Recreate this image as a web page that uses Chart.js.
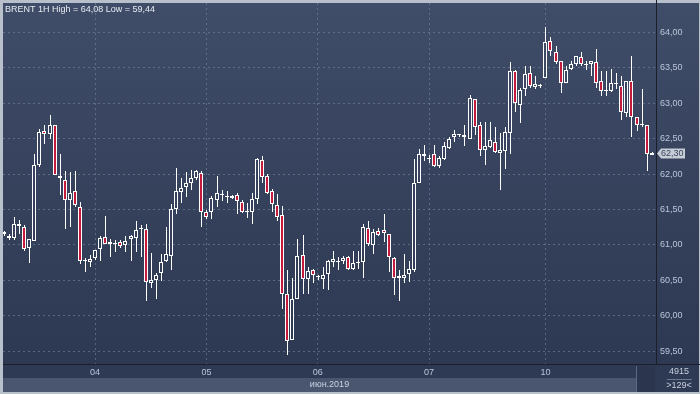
<!DOCTYPE html>
<html lang="ru">
<head>
<meta charset="UTF-8">
<title>BRENT 1H</title>
<script src="https://cdn.jsdelivr.net/npm/chart.js"></script>
<style>
    html, body { margin: 0; padding: 0; background: #b8c0cc; }
    .wrap { width: 700px; height: 394px; }
</style>
</head>
<body>
<div class="wrap"><canvas id="brentChart" width="700" height="394"></canvas></div>
<script>
// hourly candles, 03..10 June 2019
const opens = [
    61.18, 61.13, 61.10, 61.30, 61.26, 60.96, 61.06, 62.13, 62.61, 62.56,
    62.69, 61.98, 61.92, 61.64, 61.76, 61.54, 60.77, 60.76, 60.81, 60.95,
    61.11, 61.01, 61.02, 61.04, 61.00, 61.08, 61.10, 61.22, 61.22, 60.47,
    60.51, 60.60, 60.78, 60.85, 61.51, 61.75, 61.82, 61.87, 61.94, 62.01,
    61.46, 61.46, 61.63, 61.70, 61.67, 61.66, 61.71, 61.61, 61.46, 61.47,
    61.65, 62.20, 61.97, 61.76, 61.56, 61.42, 60.31, 59.66, 60.24, 60.86,
    60.52, 60.64, 60.55, 60.52, 60.59, 60.76, 60.76, 60.78, 60.83, 60.66,
    60.74, 60.76, 61.24, 61.00, 61.20, 61.21, 61.15, 60.82, 60.54, 60.54,
    60.59, 60.65, 61.88, 62.29, 62.23, 62.28, 62.11, 62.21, 62.37, 62.52,
    62.55, 62.55, 62.50, 63.06, 62.69, 62.34, 62.38, 62.46, 62.30, 62.33,
    62.58, 63.45, 62.98, 63.20, 63.42, 63.23, 63.25, 63.35, 63.88, 63.72,
    63.59, 63.29, 63.48, 63.56, 63.65, 63.54, 63.55, 63.58, 63.31, 63.17,
    63.18, 63.27, 63.25, 62.86, 63.32, 62.80, 62.69, 62.69, 62.27
];
const highs = [
    61.20, 61.16, 61.39, 61.35, 61.28, 61.08, 62.29, 62.63, 62.69, 62.83,
    62.70, 62.28, 62.04, 62.03, 62.05, 61.61, 60.81, 60.86, 60.93, 61.12,
    61.41, 61.09, 61.07, 61.07, 61.13, 61.14, 61.34, 61.28, 61.30, 60.88,
    60.60, 60.87, 61.25, 61.58, 62.09, 61.94, 62.03, 62.06, 62.06, 62.05,
    61.50, 61.69, 61.97, 61.77, 61.76, 61.71, 61.73, 61.63, 61.59, 61.73,
    62.23, 62.26, 62.00, 61.79, 61.72, 61.55, 60.64, 60.54, 61.08, 61.14,
    60.69, 60.66, 60.58, 60.69, 60.79, 60.92, 60.83, 60.84, 60.84, 60.92,
    60.92, 61.30, 61.34, 61.23, 61.24, 61.43, 61.15, 60.83, 60.64, 60.87,
    60.78, 62.21, 62.35, 62.41, 62.27, 62.41, 62.26, 62.45, 62.52, 62.62,
    62.57, 62.69, 63.12, 63.06, 62.74, 62.73, 62.73, 62.67, 62.58, 62.67,
    63.58, 63.47, 63.22, 63.53, 63.53, 63.39, 63.27, 64.08, 63.93, 63.81,
    63.59, 63.52, 63.59, 63.67, 63.72, 63.59, 63.60, 63.77, 63.45, 63.46,
    63.48, 63.42, 63.38, 63.32, 63.67, 62.81, 63.20, 62.69, 62.31
];
const lows = [
    61.13, 61.07, 61.07, 61.15, 60.92, 60.75, 61.06, 62.10, 62.43, 62.50,
    61.99, 61.70, 61.22, 61.25, 61.54, 60.73, 60.62, 60.69, 60.79, 60.78,
    61.02, 60.83, 60.90, 60.96, 60.90, 60.78, 60.90, 60.83, 60.21, 60.39,
    60.24, 60.49, 60.76, 60.64, 61.44, 61.59, 61.67, 61.78, 61.91, 61.26,
    61.37, 61.36, 61.53, 61.62, 61.59, 61.65, 61.44, 61.45, 61.38, 61.30,
    61.58, 61.88, 61.72, 61.47, 61.34, 60.10, 59.44, 59.66, 60.24, 60.31,
    60.31, 60.47, 60.51, 60.38, 60.36, 60.69, 60.65, 60.73, 60.64, 60.65,
    60.66, 60.54, 60.98, 60.87, 61.12, 61.04, 60.62, 60.30, 60.21, 60.46,
    60.48, 60.62, 61.88, 62.18, 62.16, 62.10, 62.08, 62.20, 62.35, 62.46,
    62.53, 62.40, 62.49, 62.55, 62.26, 62.13, 62.37, 62.30, 61.78, 62.07,
    62.29, 62.88, 62.72, 63.10, 63.21, 63.20, 63.21, 63.35, 63.67, 63.56,
    63.15, 63.28, 63.47, 63.52, 63.52, 63.47, 63.38, 63.21, 63.10, 63.10,
    63.16, 63.20, 62.76, 62.81, 62.52, 62.61, 62.67, 62.05, 62.27
];
const closes = [
    61.15, 61.10, 61.29, 61.27, 60.94, 61.08, 62.13, 62.60, 62.57, 62.69,
    61.99, 61.94, 61.63, 61.74, 61.56, 60.77, 60.78, 60.80, 60.93, 61.10,
    61.02, 61.04, 61.02, 60.99, 61.05, 61.12, 61.21, 61.22, 60.48, 60.50,
    60.57, 60.76, 60.87, 61.51, 61.76, 61.81, 61.87, 61.94, 62.04, 61.47,
    61.40, 61.66, 61.73, 61.70, 61.67, 61.69, 61.62, 61.47, 61.48, 61.65,
    62.21, 61.96, 61.74, 61.58, 61.40, 60.31, 59.64, 60.24, 60.85, 60.52,
    60.63, 60.57, 60.55, 60.57, 60.77, 60.80, 60.76, 60.82, 60.66, 60.74,
    60.74, 61.26, 61.01, 61.18, 61.14, 61.17, 60.83, 60.54, 60.56, 60.58,
    60.66, 61.88, 62.28, 62.25, 62.21, 62.11, 62.23, 62.39, 62.50, 62.56,
    62.55, 62.52, 63.07, 62.66, 62.34, 62.39, 62.48, 62.31, 62.34, 62.59,
    63.45, 63.00, 63.19, 63.41, 63.24, 63.27, 63.25, 63.87, 63.74, 63.58,
    63.28, 63.47, 63.55, 63.66, 63.55, 63.56, 63.59, 63.28, 63.17, 63.17,
    63.28, 63.27, 62.87, 63.31, 62.80, 62.69, 62.69, 62.28, 62.30
];

// first candle of each day and its label
const dayStarts = [18, 40, 62, 84, 107];
const dayLabels = ['04', '05', '06', '07', '10'];
const monthLabel = 'июн.2019';
const priceTicks = [59.5, 60.0, 60.5, 61.0, 61.5, 62.0, 62.5, 63.0, 63.5, 64.0];

const bearColor = '#c41a3b';
const candleEdge = '#ffffff';
const gridColor = 'rgba(125, 140, 170, 0.55)';
const labelColor = '#b9c6da';
const fontFamily = 'Arial, "Liberation Sans", sans-serif';

const fmt = v => v.toFixed(2).replace('.', ',');

let bgGrad = null;
function background(chart) {
    if (!bgGrad) {
        bgGrad = chart.ctx.createLinearGradient(0, 0, 0, 364);
        bgGrad.addColorStop(0, '#404d68');
        bgGrad.addColorStop(1, '#2d3852');
    }
    return bgGrad;
}

const wickData = highs.map((h, i) => ({ x: i, y: [lows[i], h] }));
const bodyData = opens.map((o, i) => ({ x: i, y: [o, closes[i]] }));

// put candles on whole pixels so the outlines stay sharp
const snapPlugin = {
    id: 'snap',
    afterDatasetsUpdate(chart) {
        chart.getSortedVisibleDatasetMetas().forEach(meta => {
            const isWick = meta.index === 1;
            meta.data.forEach(el => {
                const c = Math.round(el.x);
                el.x = isWick ? c + 0.5 : c;
                const top = Math.round(el.y);
                let base = Math.round(el.base);
                if (Math.abs(base - top) < 1) base = top + 1;
                el.y = top;
                el.base = base;
            });
        });
    }
};

const framePlugin = {
    id: 'frame',
    beforeDraw(chart) {
        const { ctx, chartArea: a, width, height } = chart;
        ctx.save();
        ctx.fillStyle = background(chart);
        ctx.fillRect(0, 0, width, height);
        ctx.fillStyle = '#2e3953';
        ctx.fillRect(0, a.bottom, width, height - a.bottom);
        // month band
        ctx.fillStyle = '#4a5670';
        ctx.fillRect(a.left, a.bottom + 14, 636 - a.left, 14);
        // scroll thumb
        ctx.fillStyle = '#2b364e';
        ctx.fillRect(637, a.bottom + 2, 18, 26);
        ctx.fillStyle = '#5d6880';
        ctx.fillRect(636, a.bottom + 2, 1, 26);
        ctx.restore();
    },
    afterDraw(chart) {
        const { ctx, chartArea: a, width, height } = chart;
        ctx.save();
        // outer frame
        ctx.fillStyle = '#b8c0cc';
        ctx.fillRect(0, 0, width, 3);
        ctx.fillRect(0, 0, 3, height);
        ctx.fillRect(0, height - 2, width, 2);
        ctx.fillRect(width - 1, 0, 1, height);
        ctx.fillStyle = '#1a1f2a';
        ctx.fillRect(a.left, a.bottom, width - a.left, 1);
        ctx.fillRect(a.right, 0, 1, a.bottom);

        ctx.font = '9px ' + fontFamily;
        ctx.textBaseline = 'middle';

        // header
        const hi = Math.max(...highs), lo = Math.min(...lows);
        ctx.fillStyle = '#e8ecf2';
        ctx.textAlign = 'left';
        ctx.fillText('BRENT 1H High = ' + fmt(hi) + ' Low = ' + fmt(lo), 5, 9.5);

        // last price tag
        const last = closes[closes.length - 1];
        const py = Math.round(chart.scales.y.getPixelForValue(last)) + 0.5;
        ctx.fillStyle = '#c6ccd6';
        ctx.beginPath();
        ctx.moveTo(a.right + 1, py);
        ctx.lineTo(a.right + 5, py - 5);
        ctx.lineTo(a.right + 29, py - 5);
        ctx.lineTo(a.right + 29, py + 5);
        ctx.lineTo(a.right + 5, py + 5);
        ctx.closePath();
        ctx.fill();
        ctx.fillStyle = '#3a4660';
        ctx.fillText(fmt(last), a.right + 5, py);

        // bars counter box
        ctx.textAlign = 'center';
        ctx.fillStyle = '#c8d0dc';
        ctx.fillText('4915', 679, a.bottom + 8);
        ctx.fillText('>' + highs.length + '<', 679, a.bottom + 22);
        ctx.fillStyle = '#6d7890';
        ctx.fillRect(667, a.bottom + 15, 25, 1);
        ctx.restore();
    }
};

new Chart(document.getElementById('brentChart').getContext('2d'), {
    type: 'bar',
    data: {
        datasets: [
            {
                label: 'body',
                data: bodyData,
                order: 1,
                grouped: false,
                barThickness: 4,
                minBarLength: 1,
                inflateAmount: 0,
                borderWidth: 1,
                borderSkipped: false,
                borderColor: candleEdge,
                backgroundColor: c => closes[c.dataIndex] < opens[c.dataIndex] ? bearColor : background(c.chart)
            },
            {
                label: 'wick',
                data: wickData,
                order: 2,
                grouped: false,
                barThickness: 1,
                inflateAmount: 0,
                borderWidth: 0,
                backgroundColor: candleEdge
            }
        ]
    },
    options: {
        responsive: false,
        animation: false,
        events: [],
        layout: { padding: { left: 3, top: 3, right: 0, bottom: 0 } },
        plugins: { legend: { display: false }, tooltip: { enabled: false } },
        scales: {
            x: {
                type: 'linear',
                offset: false,
                min: -0.2,
                max: 128.85,
                afterBuildTicks: s => { s.ticks = dayStarts.map(v => ({ value: v })); },
                afterFit: s => { s.height = 30; s.paddingLeft = 0; s.paddingRight = 0; },
                grid: { color: gridColor, drawTicks: false, offset: false },
                border: { display: false, dash: [2, 3] },
                ticks: {
                    autoSkip: false,
                    maxRotation: 0,
                    padding: 3,
                    color: labelColor,
                    font: { family: fontFamily, size: 9 },
                    callback: v => dayLabels[dayStarts.indexOf(v)] || ''
                },
                title: {
                    display: true,
                    text: monthLabel,
                    color: '#c8d1de',
                    padding: { top: 0, bottom: 4 },
                    font: { family: fontFamily, size: 9 }
                }
            },
            y: {
                position: 'right',
                min: 59.32,
                max: 64.415,
                afterBuildTicks: s => { s.ticks = priceTicks.map(v => ({ value: v })); },
                afterFit: s => { s.width = 44; s.paddingTop = 0; s.paddingBottom = 0; },
                grid: { color: gridColor, drawTicks: false },
                border: { display: true, color: '#1a1f2a', width: 1, dash: [2, 3] },
                ticks: {
                    padding: 4,
                    color: labelColor,
                    font: { family: fontFamily, size: 9 },
                    callback: v => fmt(v)
                }
            }
        }
    },
    plugins: [snapPlugin, framePlugin]
});
</script>
</body>
</html>
